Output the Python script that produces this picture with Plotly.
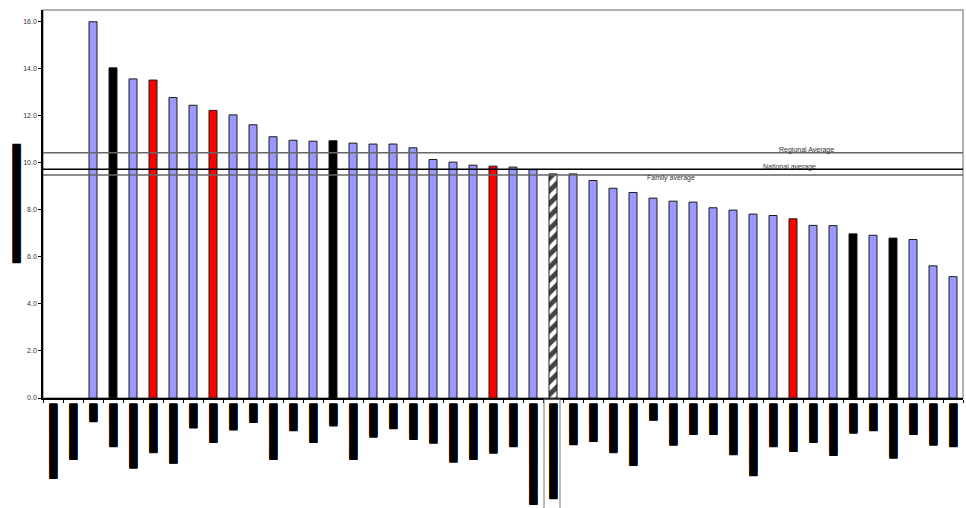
import plotly.graph_objects as go

# ---- data ----
ids = [f"S{i:02d}" for i in range(1, 47)]
# redacted category labels (drawn as block glyphs, lengths)
labels = [
    "█████████████▉", "██████████▍", "███▍", "████████", "████████████",
    "█████████▏", "███████████▏", "████▌", "███████▎", "████▉",
    "███▌", "██████████▍", "█████", "███████▎", "████▏",
    "██████████▍", "██████▎", "████▋", "██████▋", "███████▍",
    "██████████▉", "██████████▍", "█████████▎", "████████", "██████████████████▊",
    "█████████████████▋", "███████▋", "███████", "█████████▏", "███████████▌",
    "███▏", "███████▊", "█████▊", "█████▊", "█████████▌",
    "█████████████▍", "████████", "████████▉", "███████▎", "█████████▋",
    "█████▌", "█████", "██████████▏", "█████▊", "███████▊", "████████",
]
values = [None, None, 16.00, 14.04, 13.57, 13.52, 12.78, 12.45, 12.23, 12.04,
          11.62, 11.11, 10.96, 10.92, 10.94, 10.84, 10.80, 10.80, 10.64, 10.14,
          10.03, 9.90, 9.86, 9.82, 9.71, 9.53, 9.53, 9.25, 8.92, 8.74,
          8.50, 8.37, 8.33, 8.09, 7.99, 7.82, 7.76, 7.62, 7.34, 7.33,
          6.98, 6.92, 6.80, 6.74, 5.62, 5.16]
groups = ["none", "none", "peer", "black", "peer", "red", "peer", "peer", "red", "peer",
          "peer", "peer", "peer", "peer", "black", "peer", "peer", "peer", "peer", "peer",
          "peer", "peer", "red", "peer", "peer", "self", "peer", "peer", "peer", "peer",
          "peer", "peer", "peer", "peer", "peer", "peer", "peer", "red", "peer", "peer",
          "black", "peer", "black", "peer", "peer", "peer"]
averages = {"Regional Average": 10.43, "National average": 9.73, "Family average": 9.48}
y_title = "██████████████████████"

fill = {"none": "white", "peer": "#9999FF", "black": "#000000", "red": "#FF0000", "self": "white"}
colors = [fill[g] for g in groups]
patterns = ["/" if g == "self" else "" for g in groups]

fig = go.Figure()
fig.add_trace(go.Bar(
    x=ids, y=values,
    marker=dict(color=colors, line=dict(color="#1a1a1a", width=1),
                pattern=dict(shape=patterns, fgcolor="#000000", fgopacity=1,
                             fillmode="overlay", size=9, solidity=0.55)),
    showlegend=False, hoverinfo="x+y",
))

# frame (top/right grey border)
fig.add_shape(type="rect", xref="paper", yref="paper", x0=0, x1=1, y0=0, y1=1,
              line=dict(color="#999999", width=1.5), layer="below")

line_styles = {"Regional Average": ("#666666", 1.5, 37.65, 3),
               "National average": ("#000000", 1.5, 36.8, 2),
               "Family average": ("#666666", 1.5, 30.9, -3)}
for name, val in averages.items():
    col, w, xc, ys = line_styles[name]
    fig.add_shape(type="line", xref="paper", yref="y", x0=0, x1=1, y0=val, y1=val,
                  line=dict(color=col, width=w))
    fig.add_annotation(x=xc, y=val, xref="x", yref="y", text=name, showarrow=False,
                       yshift=ys, font=dict(family="Liberation Sans", size=7, color="#333333"))

# highlight box around the self label
fig.add_shape(type="rect", xref="x", yref="paper", x0=24.55, x1=25.35, y0=-0.29, y1=-0.003,
              line=dict(color="#777777", width=1), fillcolor="rgba(0,0,0,0)")

fig.update_layout(
    width=966, height=508,
    margin=dict(l=43, r=3, t=10, b=110),
    plot_bgcolor="white", paper_bgcolor="white",
    bargap=0.6,
    font=dict(family="Liberation Sans", size=7, color="#333333"),
)
fig.update_xaxes(
    type="category", tickmode="array", tickvals=ids, ticktext=labels,
    tickangle=90,
    tickfont=dict(family="DejaVu Sans", size=7, color="#000000",
                  shadow="1px 0px 0px #000000"),
    ticklabelstandoff=2,
    tickson="boundaries", ticks="outside", ticklen=3, tickcolor="#000000",
    showline=True, linecolor="#000000", linewidth=1.5, showgrid=False,
    range=[-0.5, 45.5], automargin=False,
)
fig.update_yaxes(
    range=[0, 16.5], tickmode="array", tickvals=[0, 2, 4, 6, 8, 10, 12, 14, 16],
    tickformat=".1f", ticks="outside", ticklen=3, tickcolor="#000000",
    showline=True, linecolor="#000000", linewidth=1.5, showgrid=False, zeroline=False,
    tickfont=dict(family="Liberation Sans", size=7, color="#333333"),
    title=dict(text=y_title, standoff=3,
               font=dict(family="DejaVu Sans", size=7, color="#000000",
                         shadow="1px 0px 0px #000000")),
    automargin=False,
)

fig.write_html("out.html", config={"displayModeBar": False},
               post_script="document.body.style.margin='0';document.body.style.padding='0';")
